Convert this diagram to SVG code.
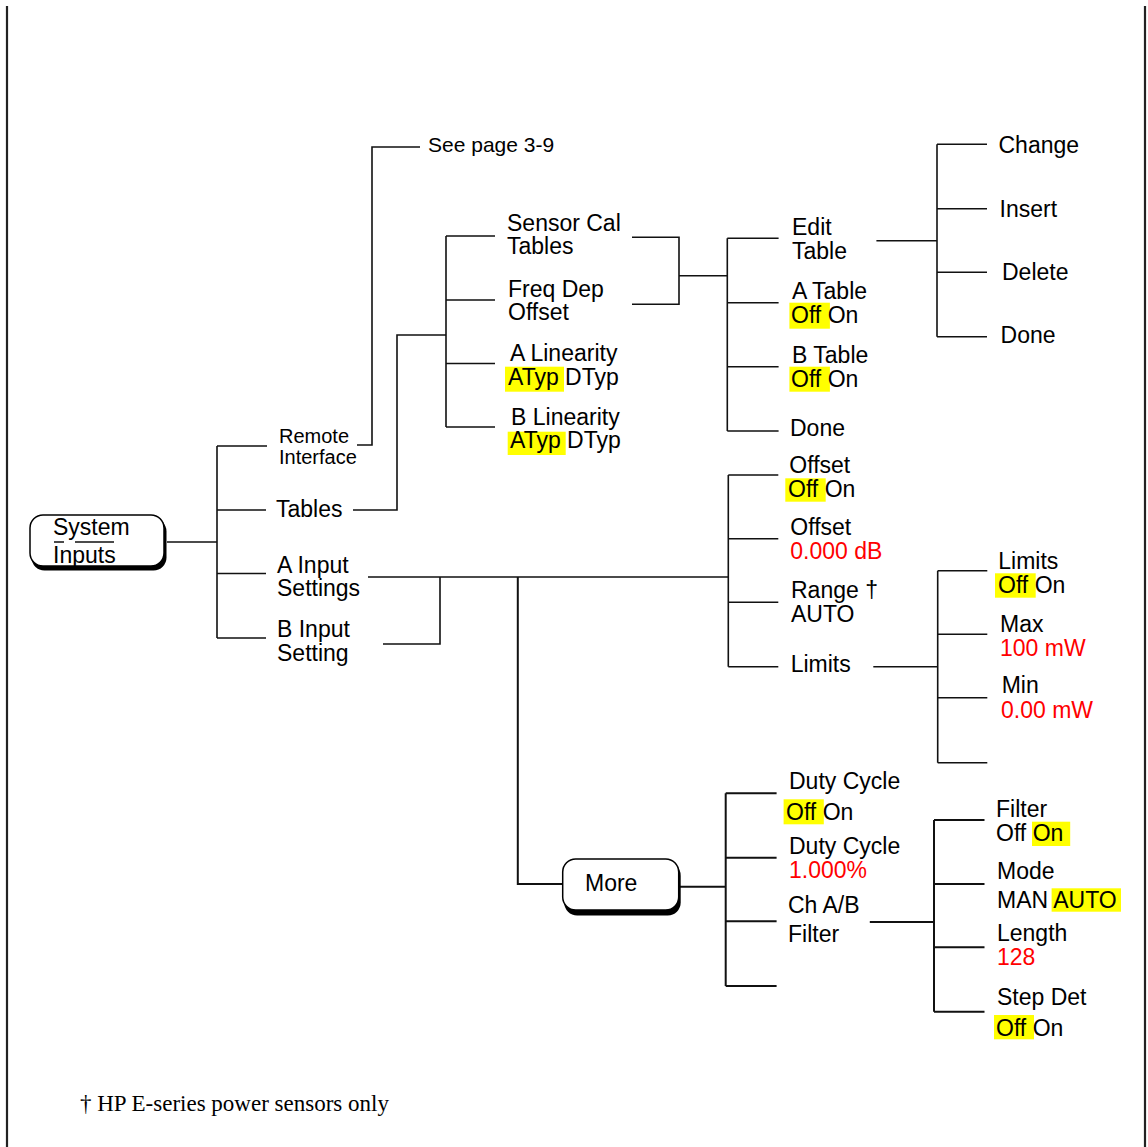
<svg xmlns="http://www.w3.org/2000/svg" width="1148" height="1147" viewBox="0 0 1148 1147">
<style>
text{font-family:"Liberation Sans",Arial,Helvetica,sans-serif;font-size:23px;fill:#000}
.sm{font-size:20px}
.sp{font-size:21px}
.red{fill:#ff0000}
.hl{fill:#ffff00}
.ln{fill:none;stroke:#111;stroke-width:1.6}
.thk{stroke-width:2}
.border{fill:none;stroke:#222;stroke-width:2.2}
.btn{fill:#fff;stroke:#000;stroke-width:1.5}
.shadow{fill:#000}
.foot{font-family:"Liberation Serif","Times New Roman",serif;font-size:23px}
</style>
<g id="frame">
<path class="border" d="M7,6 V1147 M1145,6 V1147"/>
</g>
<g id="connectors">
<path class="ln" d="M167,542 H217 M217,446 V638 M217,446 H267 M217,510 H266 M217,573.5 H266 M217,638 H266"/>
<path class="ln" d="M357,445 H372 V147 H420"/>
<path class="ln" d="M353,510 H397 V335 H446"/>
<path class="ln" d="M446,236 V427 M446,236 H495 M446,300 H495 M446,363.5 H495 M446,427 H495"/>
<path class="ln" d="M632,237.3 H679 V304.3 H632 M679,275.7 H727.3"/>
<path class="ln" d="M727.3,238.3 V431 M727.3,238.3 H778.6 M727.3,302.7 H778.6 M727.3,366.7 H778.6 M727.3,431 H778.6"/>
<path class="ln" d="M876.4,240.7 H937 M937,144.3 V336.7 M937,144.3 H987 M937,208.7 H987 M937,272.3 H987 M937,336.7 H987"/>
<path class="ln" d="M368,577 H728.3 M383,644 H440 V577"/>
<path class="ln" d="M728.3,475 V666.7 M728.3,475 H778.3 M728.3,538.7 H778.3 M728.3,602.3 H778.3 M728.3,666.7 H778.3"/>
<path class="ln" d="M873.3,666.7 H937.7 M937.7,570.7 V762.7 M937.7,570.7 H987.3 M937.7,634.3 H987.3 M937.7,697.7 H987.3 M937.7,762.7 H987.3"/>
<path class="ln thk" d="M517.8,577 V884 H562.7"/>
<path class="ln thk" d="M679,886.7 H725.7 M725.7,793.3 V986 M725.7,793.3 H776.6 M725.7,857.7 H776.6 M725.7,921.3 H776.6 M725.7,986 H776.6"/>
<path class="ln thk" d="M869.8,922 H934 M934,820 V1011.7 M934,820 H984.5 M934,884 H984.5 M934,947.3 H984.5 M934,1011.7 H984.5"/>
</g>
<g id="system-inputs">
<rect class="shadow" x="31.5" y="518.5" width="135" height="52" rx="13"/>
<rect class="btn" x="30" y="515" width="134" height="51" rx="13"/>
<text x="53" y="535">System</text>
<text x="53" y="563">Inputs</text>
<path class="ln" d="M54,542 H64 M75,542 H114"/>
</g>
<g id="remote-interface">
<text class="sm" x="279" y="443">Remote</text>
<text class="sm" x="279" y="464">Interface</text>
</g>
<g id="see-page"><text class="sp" x="428" y="152">See page 3-9</text></g>
<g id="tables"><text x="276" y="517">Tables</text></g>
<g id="a-input">
<text x="277" y="572.7">A Input</text>
<text x="277" y="596">Settings</text>
</g>
<g id="b-input">
<text x="277" y="637">B Input</text>
<text x="277" y="660.5">Setting</text>
</g>
<g id="sensor-cal">
<text x="507" y="230.7">Sensor Cal</text>
<text x="507" y="253.5">Tables</text>
</g>
<g id="freq-dep">
<text x="508" y="296.7">Freq Dep</text>
<text x="508" y="320">Offset</text>
</g>
<g id="a-linearity">
<rect class="hl" x="505" y="366.7" width="59" height="25"/>
<text x="510" y="360.7">A Linearity</text>
<text x="508" y="385">ATyp DTyp</text>
</g>
<g id="b-linearity">
<rect class="hl" x="507.7" y="431.7" width="58" height="23.3"/>
<text x="511" y="425">B Linearity</text>
<text x="510" y="448.3">ATyp DTyp</text>
</g>
<g id="edit-table">
<text x="792" y="235">Edit</text>
<text x="792" y="259.3">Table</text>
</g>
<g id="a-table">
<rect class="hl" x="789.4" y="302.7" width="40.5" height="26"/>
<text x="792" y="299.3">A Table</text>
<text x="791" y="322.7">Off On</text>
</g>
<g id="b-table">
<rect class="hl" x="789.4" y="366.7" width="40.5" height="25"/>
<text x="792" y="363.3">B Table</text>
<text x="791" y="386.7">Off On</text>
</g>
<g id="done-table"><text x="790" y="436">Done</text></g>
<g id="change"><text x="998.5" y="153.3">Change</text></g>
<g id="insert"><text x="999.6" y="216.7">Insert</text></g>
<g id="delete"><text x="1002" y="280">Delete</text></g>
<g id="done-edit"><text x="1000.6" y="342.7">Done</text></g>
<g id="offset-onoff">
<rect class="hl" x="785.3" y="478.3" width="40.4" height="23.4"/>
<text x="789.3" y="473.3">Offset</text>
<text x="788" y="497.3">Off On</text>
</g>
<g id="offset-value">
<text x="790.3" y="535">Offset</text>
<text class="red" x="790.3" y="559.3">0.000 dB</text>
</g>
<g id="range">
<text x="791" y="598.3">Range †</text>
<text x="791" y="621.7">AUTO</text>
</g>
<g id="limits"><text x="790.7" y="671.7">Limits</text></g>
<g id="limits-onoff">
<rect class="hl" x="995" y="573.3" width="40.7" height="24.4"/>
<text x="998.3" y="569.3">Limits</text>
<text x="998" y="593.3">Off On</text>
</g>
<g id="max">
<text x="1000" y="631.7">Max</text>
<text class="red" x="1000" y="655.7">100 mW</text>
</g>
<g id="min">
<text x="1001.7" y="693.3">Min</text>
<text class="red" x="1001" y="718.3">0.00 mW</text>
</g>
<g id="more">
<rect class="shadow" x="564.2" y="862.5" width="116.5" height="53" rx="13"/>
<rect class="btn" x="562.7" y="859" width="116" height="51" rx="13"/>
<text x="585" y="890.7">More</text>
</g>
<g id="duty-onoff">
<rect class="hl" x="783.6" y="799.3" width="40.2" height="25"/>
<text x="789" y="789.3">Duty Cycle</text>
<text x="786" y="820">Off On</text>
</g>
<g id="duty-value">
<text x="789" y="854.3">Duty Cycle</text>
<text class="red" x="789" y="878.3">1.000%</text>
</g>
<g id="ch-filter">
<text x="788" y="912.7">Ch A/B</text>
<text x="788" y="941.7">Filter</text>
</g>
<g id="filter-onoff">
<rect class="hl" x="1032" y="821.7" width="38.2" height="24.3"/>
<text x="996" y="817.3">Filter</text>
<text x="996" y="841">Off On</text>
</g>
<g id="mode">
<rect class="hl" x="1051.6" y="888.3" width="69.4" height="23.4"/>
<text x="997" y="879.3">Mode</text>
<text x="997" y="908.3">MAN AUTO</text>
</g>
<g id="length">
<text x="997" y="940.7">Length</text>
<text class="red" x="997" y="965">128</text>
</g>
<g id="step-det">
<rect class="hl" x="994" y="1015" width="40" height="24.3"/>
<text x="997" y="1005">Step Det</text>
<text x="996" y="1035.7">Off On</text>
</g>
<g id="footnote">
<text class="foot" x="80" y="1111">† HP E-series power sensors only</text>
</g>
</svg>
